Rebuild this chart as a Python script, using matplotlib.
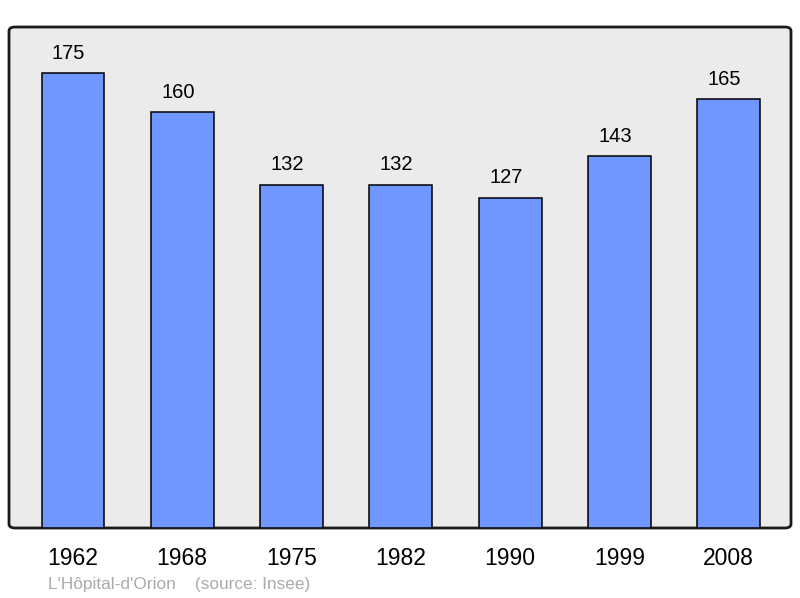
import matplotlib.pyplot as plt
from matplotlib.patches import FancyBboxPatch

years = ['1962', '1968', '1975', '1982', '1990', '1999', '2008']
population = [175, 160, 132, 132, 127, 143, 165]

plt.rcParams['font.family'] = ['Liberation Sans', 'DejaVu Sans']

fig = plt.figure(figsize=(8, 5.98), dpi=100)
ax = fig.add_axes([9 / 800, 70 / 598, 782 / 800, 501 / 598])
ax.set_facecolor('none')

# rounded frame behind the bars
frame = FancyBboxPatch((0, 0), 1, 1,
                       boxstyle='round,pad=0,rounding_size=0.008',
                       transform=ax.transAxes, facecolor='#ebebeb',
                       edgecolor='#1a1a1a', linewidth=2, zorder=0,
                       clip_on=False)
ax.add_patch(frame)

x = range(len(years))
bars = ax.bar(x, population, width=0.575, color='#7096ff',
              edgecolor='black', linewidth=1.1, zorder=2)
# labels sit a little left of the bar centre, like the original
for xi, v in zip(x, population):
    ax.text(xi - 0.04, v + 4, str(v), ha='center', va='bottom', fontsize=14.5)

ax.set_xlim(-0.585, 6.57)
ax.set_ylim(0, 192.7)
ax.set_xticks(list(x))
ax.set_xticklabels(years, fontsize=16.5)
ax.tick_params(axis='x', length=0, pad=14)
ax.set_yticks([])
for s in ax.spines.values():
    s.set_visible(False)

fig.text(48 / 800, 1 - 584 / 598, "L'Hôpital-d'Orion    (source: Insee)",
         color='#aaaaaa', fontsize=12.4, va='center')

plt.savefig('out.png', dpi=100)
